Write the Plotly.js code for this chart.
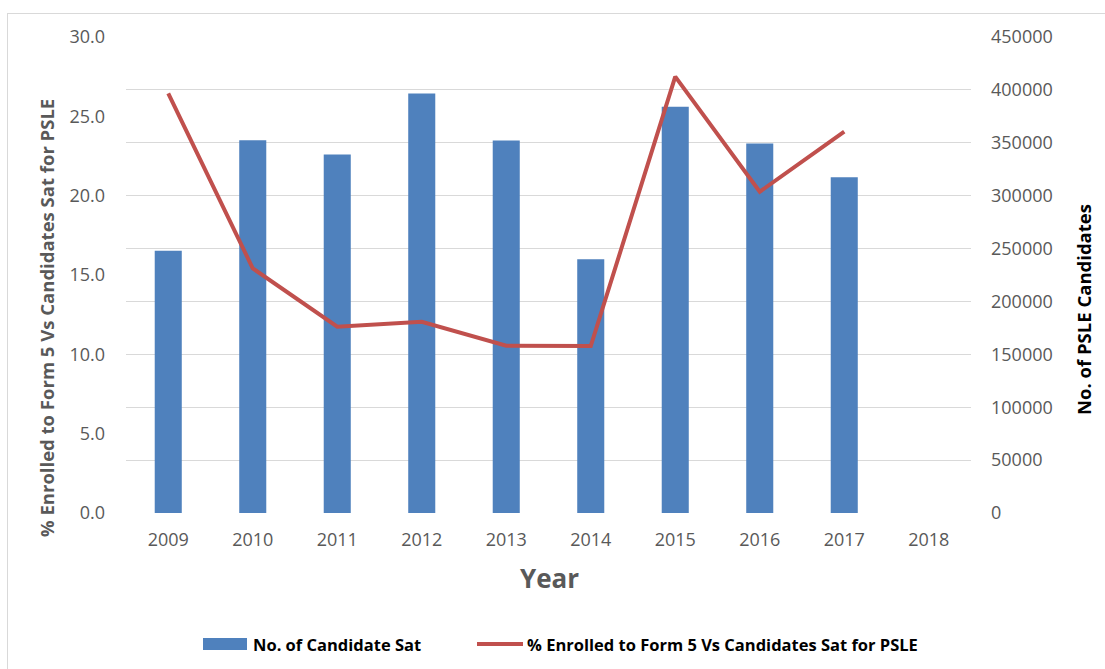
<!DOCTYPE html>
<html>
<head>
<meta charset="utf-8">
<script src="https://cdn.plot.ly/plotly-3.0.1.min.js"></script>
<style>
  html, body { margin: 0; padding: 0; background: #ffffff; }
  #chart { width: 1105px; height: 669px; position: relative; }
  #frame { position: absolute; left: 7px; top: 13px; width: 1120px; height: 700px;
           border: 1px solid #d9d9d9; pointer-events: none; box-sizing: border-box; }
</style>
</head>
<body>
<div id="chart"></div>
<div id="frame"></div>
<script>
const years = ['2009','2010','2011','2012','2013','2014','2015','2016','2017','2018'];
const candidatesSat = [248000, 352500, 339000, 396600, 352100, 240000, 384000, 349300, 317500, null];
const pctEnrolled = [26.44, 15.42, 11.74, 12.05, 10.54, 10.52, 27.5, 20.25, 24.04, null];
const leftTicks = [0, 5, 10, 15, 20, 25, 30];
const rightTicks = [0, 50000, 100000, 150000, 200000, 250000, 300000, 350000, 400000, 450000];
const barName = 'No. of Candidate Sat';
const lineName = '% Enrolled to Form 5 Vs Candidates Sat for PSLE';
const leftTitle = '% Enrolled to Form 5 Vs Candidates Sat for PSLE';
const rightTitle = 'No. of PSLE Candidates';
const xTitle = 'Year';

const FONT = 'Open Sans, sans-serif';
const GRAY = '#595959';
const BLUE = '#4f81bd';
const RED = '#c0504d';
const W = 1105, H = 669;
const M = { l: 126, r: 134, t: 37, b: 156 };
const pw = W - M.l - M.r, ph = H - M.t - M.b;
const px = x => (x - M.l) / pw;          // pixel -> paper x
const py = y => (H - M.b - y) / ph;      // pixel -> paper y

const traces = [
  {
    type: 'bar', name: barName, x: years, y: candidatesSat,
    yaxis: 'y', marker: { color: BLUE }, width: 0.32, showlegend: false
  },
  {
    type: 'scatter', mode: 'lines', name: lineName,
    x: years, y: pctEnrolled, yaxis: 'y2', line: { color: RED, width: 4 }, showlegend: false
  }
];

const layout = {
  width: W, height: H, margin: M,
  paper_bgcolor: 'rgba(0,0,0,0)', plot_bgcolor: 'rgba(0,0,0,0)',
  font: { family: FONT, color: GRAY, size: 18 },
  showlegend: false,
  xaxis: {
    type: 'category', categoryorder: 'array', categoryarray: years,
    range: [-0.5, 9.5], showgrid: false, zeroline: false, showline: false,
    ticks: '', ticklabelstandoff: 14, tickfont: { family: FONT, size: 18, color: GRAY }
  },
  yaxis: {
    side: 'right', range: [0, 450000], tickvals: rightTicks, ticktext: rightTicks.map(String),
    showgrid: true, gridcolor: '#d9d9d9', gridwidth: 1, zeroline: false, showline: false,
    ticks: '', ticklabelstandoff: 19, tickfont: { family: FONT, size: 18, color: GRAY }
  },
  yaxis2: {
    overlaying: 'y', side: 'left', range: [0, 30], tickvals: leftTicks,
    ticktext: leftTicks.map(v => v.toFixed(1)),
    showgrid: false, zeroline: false, showline: false, ticks: '',
    ticklabelstandoff: 20, tickfont: { family: FONT, size: 18, color: GRAY }
  },
  annotations: [
    { text: leftTitle, xref: 'paper', yref: 'paper', x: px(46), y: py(318), textangle: -90,
      showarrow: false, xanchor: 'center', yanchor: 'middle',
      font: { family: FONT, size: 18.5, color: GRAY, weight: 'bold' } },
    { text: rightTitle, xref: 'paper', yref: 'paper', x: px(1083), y: py(310), textangle: -90,
      showarrow: false, xanchor: 'center', yanchor: 'middle',
      font: { family: FONT, size: 18.5, color: '#000000', weight: 'bold' } },
    { text: xTitle, xref: 'paper', yref: 'paper', x: px(549), y: py(578),
      showarrow: false, xanchor: 'center', yanchor: 'middle',
      font: { family: FONT, size: 26, color: GRAY, weight: 'bold' } },
    { text: barName, xref: 'paper', yref: 'paper', x: px(251), y: py(644),
      showarrow: false, xanchor: 'left', yanchor: 'middle',
      font: { family: FONT, size: 16.5, color: '#000000', weight: 'bold' } },
    { text: lineName, xref: 'paper', yref: 'paper', x: px(525), y: py(644),
      showarrow: false, xanchor: 'left', yanchor: 'middle',
      font: { family: FONT, size: 16.5, color: '#000000', weight: 'bold' } }
  ],
  shapes: [
    { type: 'rect', xref: 'paper', yref: 'paper', x0: px(203), x1: px(247), y0: py(650), y1: py(638),
      fillcolor: BLUE, line: { width: 0 } },
    { type: 'line', xref: 'paper', yref: 'paper', x0: px(477), x1: px(523), y0: py(644), y1: py(644),
      line: { color: RED, width: 4 } }
  ]
};

Plotly.newPlot('chart', traces, layout, { displayModeBar: false, staticPlot: true });
</script>
</body>
</html>
